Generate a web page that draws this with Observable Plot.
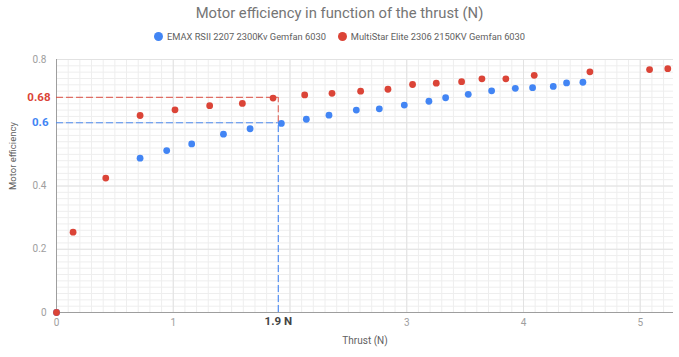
<!DOCTYPE html>
<html>
<head>
<meta charset="utf-8">
<script src="https://cdn.jsdelivr.net/npm/d3@7"></script>
<script src="https://cdn.jsdelivr.net/npm/@observablehq/plot@0.6"></script>
<style>
  html, body { margin: 0; padding: 0; background: #fff; }
  #wrap { position: relative; width: 679px; height: 357px; font-family: Roboto, "Open Sans", sans-serif; }
  #title { position: absolute; top: 4px; left: 0; width: 679px; text-align: center; font-size: 14.8px; color: #757575; }
  #legend { position: absolute; top: 31px; left: 0; width: 679px; display: flex; justify-content: center; font-size: 9.3px; color: #616161; }
  #legend .item { display: flex; align-items: center; margin: 0 6px; }
  #legend .sw { width: 9px; height: 9px; border-radius: 50%; margin-right: 4px; }
  #chart { position: absolute; top: 50px; left: 0; }
</style>
</head>
<body>
<div id="wrap">
  <div id="title"></div>
  <div id="legend"></div>
  <div id="chart"></div>
</div>
<script>
const titleText = "Motor efficiency in function of the thrust (N)";
const seriesNames = ["EMAX RSII 2207 2300Kv Gemfan 6030", "MultiStar Elite 2306 2150KV Gemfan 6030"];
const seriesColors = ["#4285F4", "#DB4437"];

const emaxThrust = [0, 0.716, 0.944, 1.158, 1.43, 1.658, 1.926, 2.14, 2.334, 2.568, 2.765, 2.979, 3.19, 3.333, 3.527, 3.727, 3.93, 4.078, 4.255, 4.369, 4.509];
const emaxEff    = [0, 0.488, 0.512, 0.533, 0.564, 0.581, 0.598, 0.611, 0.624, 0.640, 0.644, 0.656, 0.668, 0.679, 0.690, 0.701, 0.709, 0.711, 0.715, 0.726, 0.728];

const multiThrust = [0, 0.142, 0.422, 0.716, 1.015, 1.312, 1.592, 1.855, 2.126, 2.36, 2.605, 2.839, 3.05, 3.253, 3.47, 3.644, 3.849, 4.092, 4.569, 5.08, 5.236];
const multiEff    = [0, 0.254, 0.425, 0.623, 0.641, 0.654, 0.661, 0.678, 0.688, 0.693, 0.700, 0.706, 0.721, 0.725, 0.730, 0.739, 0.739, 0.750, 0.761, 0.768, 0.771];

const xTicks = [0, 1, 3, 4, 5];
const yTicks = [0, 0.2, 0.4, 0.8];
const markThrust = [1.9];
const markThrustLabel = ["1.9 N"];
const markEmaxEff = [0.6];
const markMultiEff = [0.68];
const xAxisTitle = "Thrust (N)";
const yAxisTitle = "Motor efficiency";

document.getElementById("title").textContent = titleText;
const leg = document.getElementById("legend");
seriesNames.forEach((n, i) => {
  const it = document.createElement("div"); it.className = "item";
  const sw = document.createElement("div"); sw.className = "sw"; sw.style.background = seriesColors[i];
  const tx = document.createElement("span"); tx.textContent = n;
  it.appendChild(sw); it.appendChild(tx); leg.appendChild(it);
});

const emax = emaxThrust.map((t, i) => ({t, e: emaxEff[i]}));
const multi = multiThrust.map((t, i) => ({t, e: multiEff[i]}));
const xMax = 5.285;
const xMinor = d3.range(0, 53).map(i => i / 10).filter(v => v <= xMax);
const xMajor = d3.range(0, 6);
const yMinor = d3.range(0, 41).map(i => i / 50);
const yMajor = [0, 0.2, 0.4, 0.6, 0.8];
const fmt = d => String(d);

const chart = Plot.plot({
  width: 679,
  height: 307,
  marginLeft: 56,
  marginRight: 6,
  marginTop: 9,
  marginBottom: 45,
  style: { fontFamily: "Roboto, sans-serif", background: "#fff" },
  x: { domain: [0, xMax], axis: null },
  y: { domain: [0, 0.8], axis: null },
  marks: [
    Plot.ruleX(xMinor, { stroke: "#eeeeee", strokeWidth: 1 }),
    Plot.ruleY(yMinor, { stroke: "#eeeeee", strokeWidth: 1 }),
    Plot.ruleX(xMajor, { stroke: "#e2e2e2", strokeWidth: 1 }),
    Plot.ruleY(yMajor, { stroke: "#e2e2e2", strokeWidth: 1 }),
    Plot.ruleX([0], { stroke: "#9e9e9e", strokeWidth: 1 }),
    Plot.ruleY([0], { stroke: "#9e9e9e", strokeWidth: 1 }),
    Plot.axisX(xTicks, { tickSize: 0, tickPadding: 6, tickFormat: fmt, color: "#9e9e9e", fontSize: 10, label: null }),
    Plot.axisY(yTicks, { tickSize: 0, tickPadding: 10, tickFormat: fmt, color: "#9e9e9e", fontSize: 10, label: null }),
    // annotation lines
    Plot.ruleY(markMultiEff, { x1: 0, x2: markThrust[0], stroke: seriesColors[1], strokeOpacity: 0.75, strokeDasharray: "7,3", strokeWidth: 1.2 }),
    Plot.ruleX(markThrust, { y1: markEmaxEff[0], y2: markMultiEff[0], stroke: seriesColors[1], strokeOpacity: 0.75, strokeDasharray: "7,3", strokeWidth: 1.2 }),
    Plot.ruleY(markEmaxEff, { x1: 0, x2: markThrust[0], stroke: seriesColors[0], strokeOpacity: 0.9, strokeDasharray: "7,3", strokeWidth: 1.2 }),
    Plot.ruleX(markThrust, { y1: 0, y2: markEmaxEff[0], stroke: seriesColors[0], strokeOpacity: 0.9, strokeDasharray: "7,3", strokeWidth: 1.2 }),
    // annotation labels
    Plot.text(markMultiEff, { x: 0, y: d => d, text: d => String(d), textAnchor: "end", dx: -6, fill: seriesColors[1], fontWeight: "bold", fontSize: 11.5 }),
    Plot.text(markEmaxEff, { x: 0, y: d => d, text: d => String(d), textAnchor: "end", dx: -8, fill: seriesColors[0], fontWeight: "bold", fontSize: 11.5 }),
    Plot.text(markThrust, { x: d => d, y: 0, text: (d, i) => markThrustLabel[i], dy: 4, lineAnchor: "top", fill: "#444", fontWeight: "bold", fontSize: 11.5 }),
    // axis titles
    Plot.text([yAxisTitle], { frameAnchor: "left", rotate: -90, dx: -44, dy: 4, fill: "#616161", fontSize: 9.5 }),
    Plot.text([xAxisTitle], { frameAnchor: "bottom", dy: 31, fill: "#616161", fontSize: 10 }),
    // data
    Plot.dot(emax, { x: "t", y: "e", r: 3.4, fill: seriesColors[0], stroke: "none" }),
    Plot.dot(multi, { x: "t", y: "e", r: 3.4, fill: seriesColors[1], stroke: "none" })
  ]
});
document.getElementById("chart").appendChild(chart);
</script>
</body>
</html>
